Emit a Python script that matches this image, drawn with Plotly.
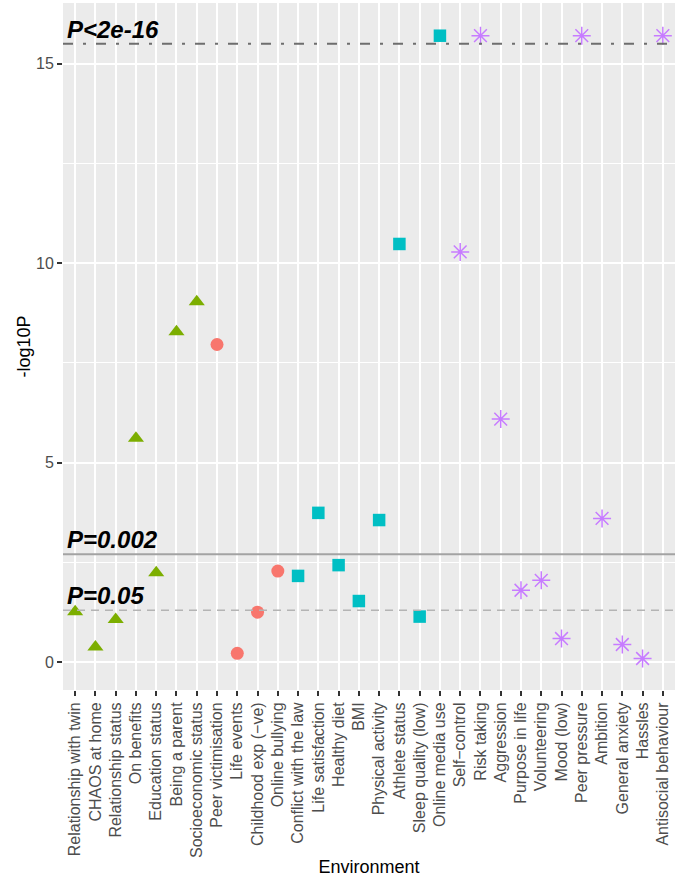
import plotly.graph_objects as go

# ---- data ----
categories = [
    "Relationship with twin", "CHAOS at home", "Relationship status", "On benefits",
    "Education status", "Being a parent", "Socioeconomic status",
    "Peer victimisation", "Life events", "Childhood exp (\u2212ve)", "Online bullying",
    "Conflict with the law", "Life satisfaction", "Healthy diet", "BMI",
    "Physical activity", "Athlete status", "Sleep quality (low)", "Online media use",
    "Self\u2212control", "Risk taking", "Aggression", "Purpose in life", "Volunteering",
    "Mood (low)", "Peer pressure", "Ambition", "General anxiety", "Hassles",
    "Antisocial behaviour",
]

family_cats = categories[0:7]
family_vals = [1.26, 0.38, 1.07, 5.61, 2.24, 8.28, 9.03]

adversity_cats = categories[7:11]
adversity_vals = [7.96, 0.22, 1.25, 2.28]

lifestyle_cats = categories[11:19]
lifestyle_vals = [2.16, 3.74, 2.43, 1.53, 3.56, 10.48, 1.14, 15.7]

personal_cats = categories[19:30]
personal_vals = [10.28, 15.7, 6.09, 1.80, 2.05, 0.59, 15.7, 3.60, 0.44, 0.09, 15.7]

threshold_labels = ["P<2e-16", "P=0.002", "P=0.05"]
threshold_vals = [15.5, 2.70, 1.30]

FONT = "Liberation Sans, Arial, sans-serif"

fig = go.Figure()

fig.add_trace(go.Scatter(
    x=family_cats, y=family_vals, mode="markers",
    marker=dict(symbol="triangle-up", size=14, color="#7CAE00"),
    showlegend=False))
fig.add_trace(go.Scatter(
    x=adversity_cats, y=adversity_vals, mode="markers",
    marker=dict(symbol="circle", size=13, color="#F8766D"),
    showlegend=False))
fig.add_trace(go.Scatter(
    x=lifestyle_cats, y=lifestyle_vals, mode="markers",
    marker=dict(symbol="square", size=12.5, color="#00BFC4"),
    showlegend=False))
fig.add_trace(go.Scatter(
    x=personal_cats, y=personal_vals, mode="markers",
    marker=dict(symbol="asterisk-open", size=15, color="#C77CFF",
                line=dict(color="#C77CFF", width=1.5)),
    showlegend=False))

line_styles = [
    dict(color="#6E6E6E", width=2, dash="10px,10px,3px,10px"),
    dict(color="#A3A3A3", width=2, dash="solid"),
    dict(color="#B4B4B4", width=1.5, dash="8px,6px"),
]
for lab, val, st in zip(threshold_labels, threshold_vals, line_styles):
    fig.add_hline(y=val, line=st, layer="above")
    fig.add_annotation(
        x=0, xref="paper", y=val, yref="y", text=lab, showarrow=False,
        xanchor="left", yanchor="bottom", xshift=2, yshift=-1,
        font=dict(family=FONT, size=24, color="black", weight="bold", style="italic"))

fig.update_layout(
    width=677, height=880,
    margin=dict(l=63, r=2, t=3, b=190, autoexpand=False),
    paper_bgcolor="white", plot_bgcolor="#EBEBEB",
    font=dict(family=FONT, color="#4D4D4D", size=16),
)
fig.update_xaxes(
    type="category", categoryorder="array", categoryarray=categories,
    range=[-0.6, 29.6], tickangle=-90, automargin=False,
    showgrid=True, gridcolor="white", gridwidth=2,
    ticks="outside", ticklen=5, tickwidth=1.5, tickcolor="#333333",
    tickfont=dict(size=16, color="#4D4D4D"),
    title=dict(text="Environment", font=dict(size=18, color="black"), standoff=3),
    zeroline=False, showline=False,
)
fig.update_yaxes(
    range=[-0.70, 16.52], tickvals=[0, 5, 10, 15], automargin=False,
    showgrid=True, gridcolor="white", gridwidth=2,
    minor=dict(tickvals=[2.5, 7.5, 12.5], showgrid=True, gridcolor="white", gridwidth=1),
    ticks="outside", ticklen=5, tickwidth=1.5, tickcolor="#333333",
    tickfont=dict(size=16, color="#4D4D4D"),
    title=dict(text="-log10P", font=dict(size=18, color="black"), standoff=0),
    zeroline=False, showline=False,
)

fig.write_html("out.html", config={"displayModeBar": False},
               post_script="document.body.style.margin='0px';")
